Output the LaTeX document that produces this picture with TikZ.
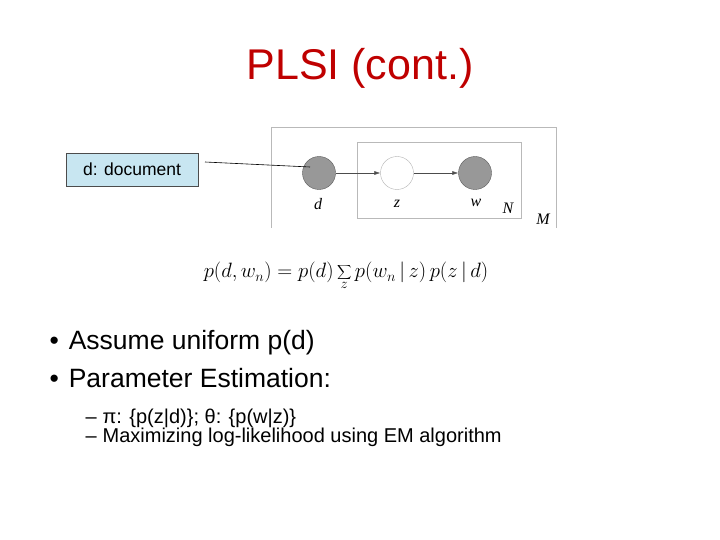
\documentclass[tikz,border=0pt]{standalone}
\usepackage{fontspec}
\setmainfont{Liberation Sans}
\usetikzlibrary{arrows.meta}
\begin{document}
\begin{tikzpicture}[x=1pt,y=-1pt,
  plate/.style={draw=gray!55,line width=0.8pt},
  obs/.style={circle,draw=gray!70!black,fill=gray!85!black!70,minimum size=33pt,inner sep=0pt},
  lat/.style={circle,draw=gray!60,fill=white,minimum size=33pt,inner sep=0pt},
  lbl/.style={font=\fontsize{16}{16}\selectfont\itshape\fontspec{Liberation Serif}},
  edge/.style={draw=gray!60!black,line width=0.5pt,-{Latex[length=6pt,width=4pt]}}]
\useasboundingbox (0,0) rectangle (720,540);
\node[font=\fontsize{43}{43}\selectfont,text=red!75!black] (title) at (360,68) {PLSI (cont.)};
\draw[plate] (271,228) -- (271,127) -- (556,127) -- (556,228);
\draw[plate] (357,142) rectangle (521,218);
\node[obs] (d) at (319,173) {};
\node[lat] (z) at (397,173) {};
\node[obs] (w) at (475,173) {};
\draw[edge] (d) -- (z);
\draw[edge] (z) -- (w);
\node[lbl] (ld) at (318,204) {d};
\node[lbl] (lz) at (397,204) {z};
\node[lbl] (lw) at (476,203) {w};
\node[lbl] (lN) at (508,208) {N};
\node[lbl] (lM) at (543,219) {M};
\node[draw=black!70,fill=cyan!20!white!90!gray,minimum width=132pt,minimum height=33pt,font=\fontsize{17.5}{17.5}\selectfont] (doc) at (132,169.5) {d: document};
\coordinate (c1) at (205,162);
\coordinate (c2) at (310,167);
\draw[line width=0.6pt] (c1) -- (c2);
\node (eq) at (346,276) {\fontsize{22}{26}\selectfont$\displaystyle p(d,w_n)=p(d)\sum_{z}p(w_n\,|\,z)\,p(z\,|\,d)$};
\node[anchor=west,font=\fontsize{26.5}{26.5}\selectfont] (b1) at (46,343) {•\hspace{10pt}Assume uniform p(d)};
\node[anchor=west,font=\fontsize{26.5}{26.5}\selectfont] (b2) at (46,378) {•\hspace{10pt}Parameter Estimation:};
\node[anchor=west,font=\fontsize{20}{20}\selectfont] (s1) at (82,418) {–\hspace{6pt}π: \{p(z|d)\}; θ: \{p(w|z)\}};
\node[anchor=west,font=\fontsize{20}{20}\selectfont] (s2) at (82,437) {–\hspace{6pt}Maximizing log-likelihood using EM algorithm};
\end{tikzpicture}
\end{document}
